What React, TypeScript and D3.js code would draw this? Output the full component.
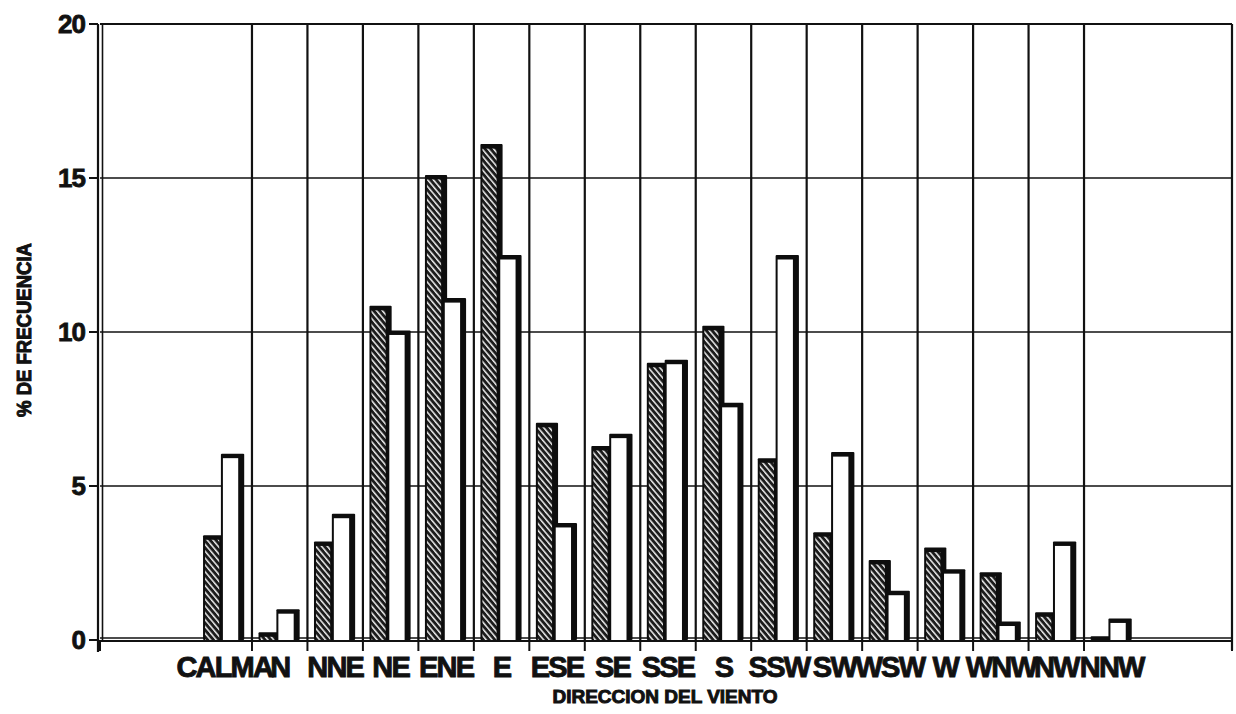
import React from "react";
import * as d3 from "d3";

const categories = ["CALMA", "N", "NNE", "NE", "ENE", "E", "ESE", "SE", "SSE", "S", "SSW", "SW", "WSW", "W", "WNW", "NW", "NNW"];
const hatchedValues = [3.4, 0.25, 3.2, 10.85, 15.1, 16.1, 7.05, 6.3, 9.0, 10.2, 5.9, 3.5, 2.6, 3.0, 2.2, 0.9, 0.12];
const whiteValues = [6.05, 1.0, 4.1, 10.05, 11.1, 12.5, 3.8, 6.7, 9.1, 7.7, 12.5, 6.1, 1.6, 2.3, 0.6, 3.2, 0.7];
const yTicks = [0, 5, 10, 15, 20];

const W = 1236;
const H = 714;
const plotLeft = 100;
const plotRight = 1232;
const plotTop = 24;
const plotBottom = 640;

export default function App() {
  const x = d3.scaleBand<string>().domain(categories).range([196.5, 1139.5]).paddingInner(0).paddingOuter(0);
  const y = d3.scaleLinear().domain([0, 20]).range([plotBottom, plotTop]);
  const bw = x.bandwidth();
  const boundaries = categories.slice(1).map((c) => x(c) as number);
  const font = "'Liberation Sans', Arial, sans-serif";

  const bar = (bx: number, width: number, v: number, fill: string, key: string) => {
    const top = y(v);
    const h = plotBottom - top;
    const capTop = Math.min(4.5, h);
    return (
      <g key={key}>
        <rect x={bx} y={top} width={width} height={h} fill="#0d0d0d" rx={1} />
        {h > 4.5 && (
          <rect x={bx + 2} y={top + capTop} width={Math.max(0, width - 8)} height={h - capTop} fill={fill} />
        )}
      </g>
    );
  };

  return (
    <svg width={W} height={H} style={{ position: "absolute", left: 0, top: 0, background: "#fff" }}>
      <defs>
        <pattern id="hatch" patternUnits="userSpaceOnUse" width="4.4" height="4.4" patternTransform="rotate(-40)">
          <rect width="4.4" height="4.4" fill="#1c1c1c" />
          <rect x="0" y="0" width="1.5" height="4.4" fill="#eeeeee" />
        </pattern>
      </defs>
      <rect x={0} y={0} width={W} height={H} fill="#fff" />

      {/* horizontal gridlines */}
      {yTicks.filter((t) => t > 0 && t < 20).map((t) => (
        <line key={"hg" + t} x1={plotLeft} x2={plotRight} y1={y(t)} y2={y(t)} stroke="#111" strokeWidth={1.6} />
      ))}
      {/* vertical gridlines */}
      {boundaries.map((b, i) => (
        <line key={"vg" + i} x1={b} x2={b} y1={plotTop} y2={plotBottom} stroke="#111" strokeWidth={2.2} />
      ))}
      {/* frame */}
      <line x1={plotLeft} x2={plotRight} y1={plotTop} y2={plotTop} stroke="#111" strokeWidth={2.2} />
      <line x1={plotRight} x2={plotRight} y1={plotTop} y2={plotBottom + 10} stroke="#111" strokeWidth={2.2} />
      <line x1={98} x2={98} y1={plotTop} y2={plotBottom + 12} stroke="#111" strokeWidth={2.2} />
      <line x1={102.5} x2={102.5} y1={plotTop} y2={plotBottom} stroke="#111" strokeWidth={1.6} />
      {/* zero line & axis */}
      <line x1={plotLeft} x2={plotRight} y1={plotBottom - 2} y2={plotBottom - 2} stroke="#111" strokeWidth={1.4} />
      <line x1={plotLeft} x2={plotRight} y1={plotBottom + 1} y2={plotBottom + 1} stroke="#111" strokeWidth={2.2} />

      {/* bars */}
      {categories.map((c, i) => {
        const bx = x(c) as number;
        return (
          <g key={c}>
            {bar(bx + bw * 0.118, bw * 0.4, hatchedValues[i], "url(#hatch)", c + "h")}
            {bar(bx + bw * 0.44, bw * 0.42, whiteValues[i], "#fff", c + "w")}
          </g>
        );
      })}

      {/* y ticks and labels */}
      {yTicks.map((t) => (
        <g key={"yt" + t}>
          <line x1={89} x2={98} y1={y(t)} y2={y(t)} stroke="#111" strokeWidth={2} />
          <text x={85} y={y(t)} dy="0.36em" textAnchor="end" fontFamily={font} fontWeight="bold" fontSize={26} fill="#111" stroke="#111" strokeWidth={0.8} letterSpacing={-1}>
            {t}
          </text>
        </g>
      ))}

      {/* x ticks */}
      {[plotLeft, ...boundaries, plotRight].map((b, i) => (
        <line key={"xt" + i} x1={b} x2={b} y1={plotBottom} y2={plotBottom + 11} stroke="#111" strokeWidth={2} />
      ))}

      {/* x labels */}
      {categories.map((c) => (
        <text key={"xl" + c} x={(x(c) as number) + bw / 2} y={677} textAnchor="middle" fontFamily={font} fontWeight="bold" fontSize={29} fill="#111" stroke="#111" strokeWidth={0.9} letterSpacing={-1.8}>
          {c}
        </text>
      ))}

      {/* axis titles */}
      <text x={665} y={703} textAnchor="middle" fontFamily={font} fontWeight="bold" fontSize={19} fill="#111" textLength={225} lengthAdjust="spacingAndGlyphs" stroke="#111" strokeWidth={1}>
        DIRECCION DEL VIENTO
      </text>
      <text transform="translate(31,330) rotate(-90)" x={0} y={0} textAnchor="middle" fontFamily={font} fontWeight="bold" fontSize={20} fill="#111" textLength={174} lengthAdjust="spacingAndGlyphs" stroke="#111" strokeWidth={1}>
        % DE FRECUENCIA
      </text>
    </svg>
  );
}
